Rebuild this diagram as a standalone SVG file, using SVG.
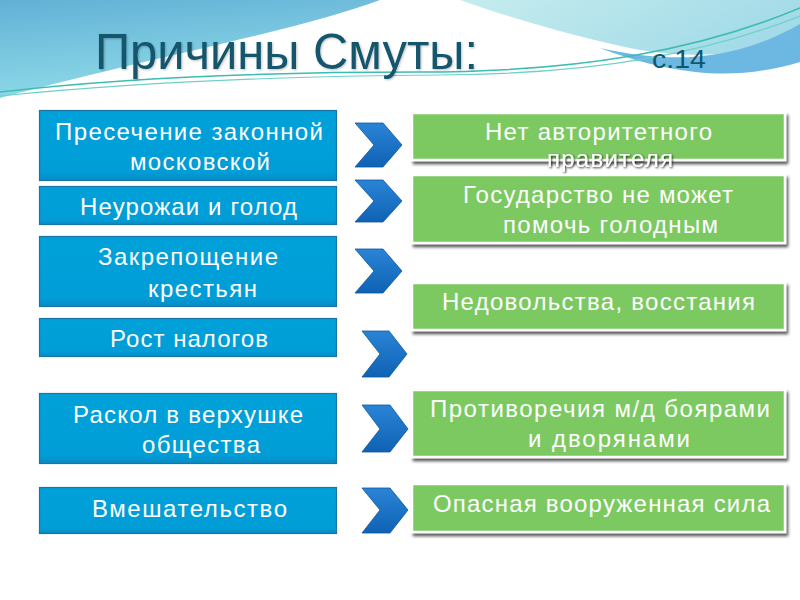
<svg xmlns="http://www.w3.org/2000/svg" width="800" height="600" viewBox="0 0 800 600">
<defs>
<linearGradient id="gBlueTop" x1="0" y1="0" x2="0.3" y2="1">
<stop offset="0" stop-color="#62b1d6"/>
<stop offset="1" stop-color="#8fdbe9"/>
</linearGradient>
<linearGradient id="gCyan" x1="0" y1="0" x2="1" y2="0.3">
<stop offset="0" stop-color="#c5ecee"/>
<stop offset="1" stop-color="#a3dbe8"/>
</linearGradient>
<linearGradient id="gChev" x1="0" y1="0" x2="0" y2="1">
<stop offset="0" stop-color="#2a84d6"/>
<stop offset="1" stop-color="#0f62b4"/>
</linearGradient>
<linearGradient id="gBox" x1="0" y1="0" x2="0" y2="1">
<stop offset="0" stop-color="#00a1da"/>
<stop offset="0.88" stop-color="#009dd7"/>
<stop offset="1" stop-color="#0a8ac4"/>
</linearGradient>
<filter id="sh" x="-5%" y="-10%" width="115%" height="135%">
<feDropShadow dx="2" dy="3" stdDeviation="1.5" flood-color="#000" flood-opacity="0.65"/>
</filter>
<filter id="tsh" x="-10%" y="-30%" width="120%" height="160%">
<feDropShadow dx="1" dy="1" stdDeviation="0.8" flood-color="#000" flood-opacity="0.8"/>
</filter>
<filter id="ttl" x="-5%" y="-10%" width="110%" height="130%">
<feDropShadow dx="1" dy="1" stdDeviation="1" flood-color="#000" flood-opacity="0.25"/>
</filter>
</defs>
<style>
.blue{fill:url(#gBox);stroke:#1a74a6;stroke-width:1.2}
.green{fill:#7cc962;stroke:#ffffff;stroke-width:2.5;filter:url(#sh)}
.chev{fill:url(#gChev);stroke:#0c57a2;stroke-width:0.8}
.t{font-family:"Liberation Sans",Arial,sans-serif;font-size:24px;fill:#ffffff}
.title{font-family:"Liberation Sans",Arial,sans-serif;fill:#12566d}
</style>
<rect width="800" height="600" fill="#ffffff"/>
<g id="background">
<path d="M0,0 H380 C300,30 160,55 0,98 Z" fill="url(#gBlueTop)"/>
<path d="M460,0 H800 V30 C760,55 700,60 640,50 C580,38 510,18 460,0 Z" fill="url(#gCyan)"/>
<path d="M600,48 C680,66 740,58 800,24 V62 C740,80 680,78 600,48 Z" fill="#6cb8e3"/>
<path d="M0,92 C120,78 260,72 420,72 C580,72 700,50 800,8" fill="none" stroke="#3dbcb2" stroke-width="1.6"/>
<path d="M0,96 C140,82 280,76 440,75 C600,74 710,52 800,16" fill="none" stroke="#6fd0c8" stroke-width="1.2"/>
</g>
<g id="title">
<text class="title" x="95" y="69" font-size="50" textLength="383" lengthAdjust="spacingAndGlyphs" filter="url(#ttl)">Причины Смуты:</text>
<text class="title" x="652" y="68" font-size="26" textLength="54" lengthAdjust="spacingAndGlyphs">с.14</text>
</g>
<g id="connectors">
<path class="chev" d="M355,123 H383 L402,145 L383,167 H355 L374,145 Z"/>
<path class="chev" d="M355,180 H383 L402,201 L383,222 H355 L374,201 Z"/>
<path class="chev" d="M355,249 H383 L402,271 L383,293 H355 L374,271 Z"/>
<path class="chev" d="M362,331 H389 L407,354 L389,377 H362 L380,354 Z"/>
<path class="chev" d="M362,405 H390 L408,429 L390,452 H362 L380,429 Z"/>
<path class="chev" d="M362,488 H390 L408,510 L390,533 H362 L380,510 Z"/>
</g>
<g id="cause1">
<rect class="blue" x="39.5" y="110.5" width="297" height="70"/>
<text class="t" x="55" y="140" textLength="268" lengthAdjust="spacing">Пресечение законной</text>
<text class="t" x="130" y="170" textLength="140" lengthAdjust="spacing">московской</text>
</g>
<g id="cause2">
<rect class="blue" x="39.5" y="186.5" width="297" height="38"/>
<text class="t" x="80" y="215" textLength="217" lengthAdjust="spacing">Неурожаи и голод</text>
</g>
<g id="cause3">
<rect class="blue" x="39.5" y="236.5" width="297" height="70"/>
<text class="t" x="98" y="265" textLength="180" lengthAdjust="spacing">Закрепощение</text>
<text class="t" x="148" y="297" textLength="109" lengthAdjust="spacing">крестьян</text>
</g>
<g id="cause4">
<rect class="blue" x="39.5" y="318.5" width="297" height="38"/>
<text class="t" x="110" y="347" textLength="158" lengthAdjust="spacing">Рост налогов</text>
</g>
<g id="cause5">
<rect class="blue" x="39.5" y="393.5" width="297" height="70"/>
<text class="t" x="73" y="423" textLength="230" lengthAdjust="spacing">Раскол в верхушке</text>
<text class="t" x="142" y="453" textLength="118" lengthAdjust="spacing">общества</text>
</g>
<g id="cause6">
<rect class="blue" x="39.5" y="487.5" width="297" height="46"/>
<text class="t" x="92" y="517" textLength="195" lengthAdjust="spacing">Вмешательство</text>
</g>
<g id="effect1">
<rect class="green" x="412" y="113" width="373" height="47"/>
<text class="t" x="485" y="140" textLength="227" lengthAdjust="spacing">Нет авторитетного</text>
<text class="t" x="547" y="167" textLength="126" lengthAdjust="spacing" filter="url(#tsh)">правителя</text>
</g>
<g id="effect2">
<rect class="green" x="412" y="175" width="373" height="68"/>
<text class="t" x="463" y="203" textLength="270" lengthAdjust="spacing">Государство не может</text>
<text class="t" x="503" y="233" textLength="215" lengthAdjust="spacing">помочь голодным</text>
</g>
<g id="effect3">
<rect class="green" x="412" y="283" width="373" height="47"/>
<text class="t" x="442" y="310" textLength="313" lengthAdjust="spacing">Недовольства, восстания</text>
</g>
<g id="effect4">
<rect class="green" x="412" y="390" width="373" height="67"/>
<text class="t" x="430" y="417" textLength="340" lengthAdjust="spacing">Противоречия м/д боярами</text>
<text class="t" x="528" y="447" textLength="162" lengthAdjust="spacing">и дворянами</text>
</g>
<g id="effect5">
<rect class="green" x="412" y="484" width="373" height="48"/>
<text class="t" x="433" y="512" textLength="337" lengthAdjust="spacing">Опасная вооруженная сила</text>
</g>
</svg>
